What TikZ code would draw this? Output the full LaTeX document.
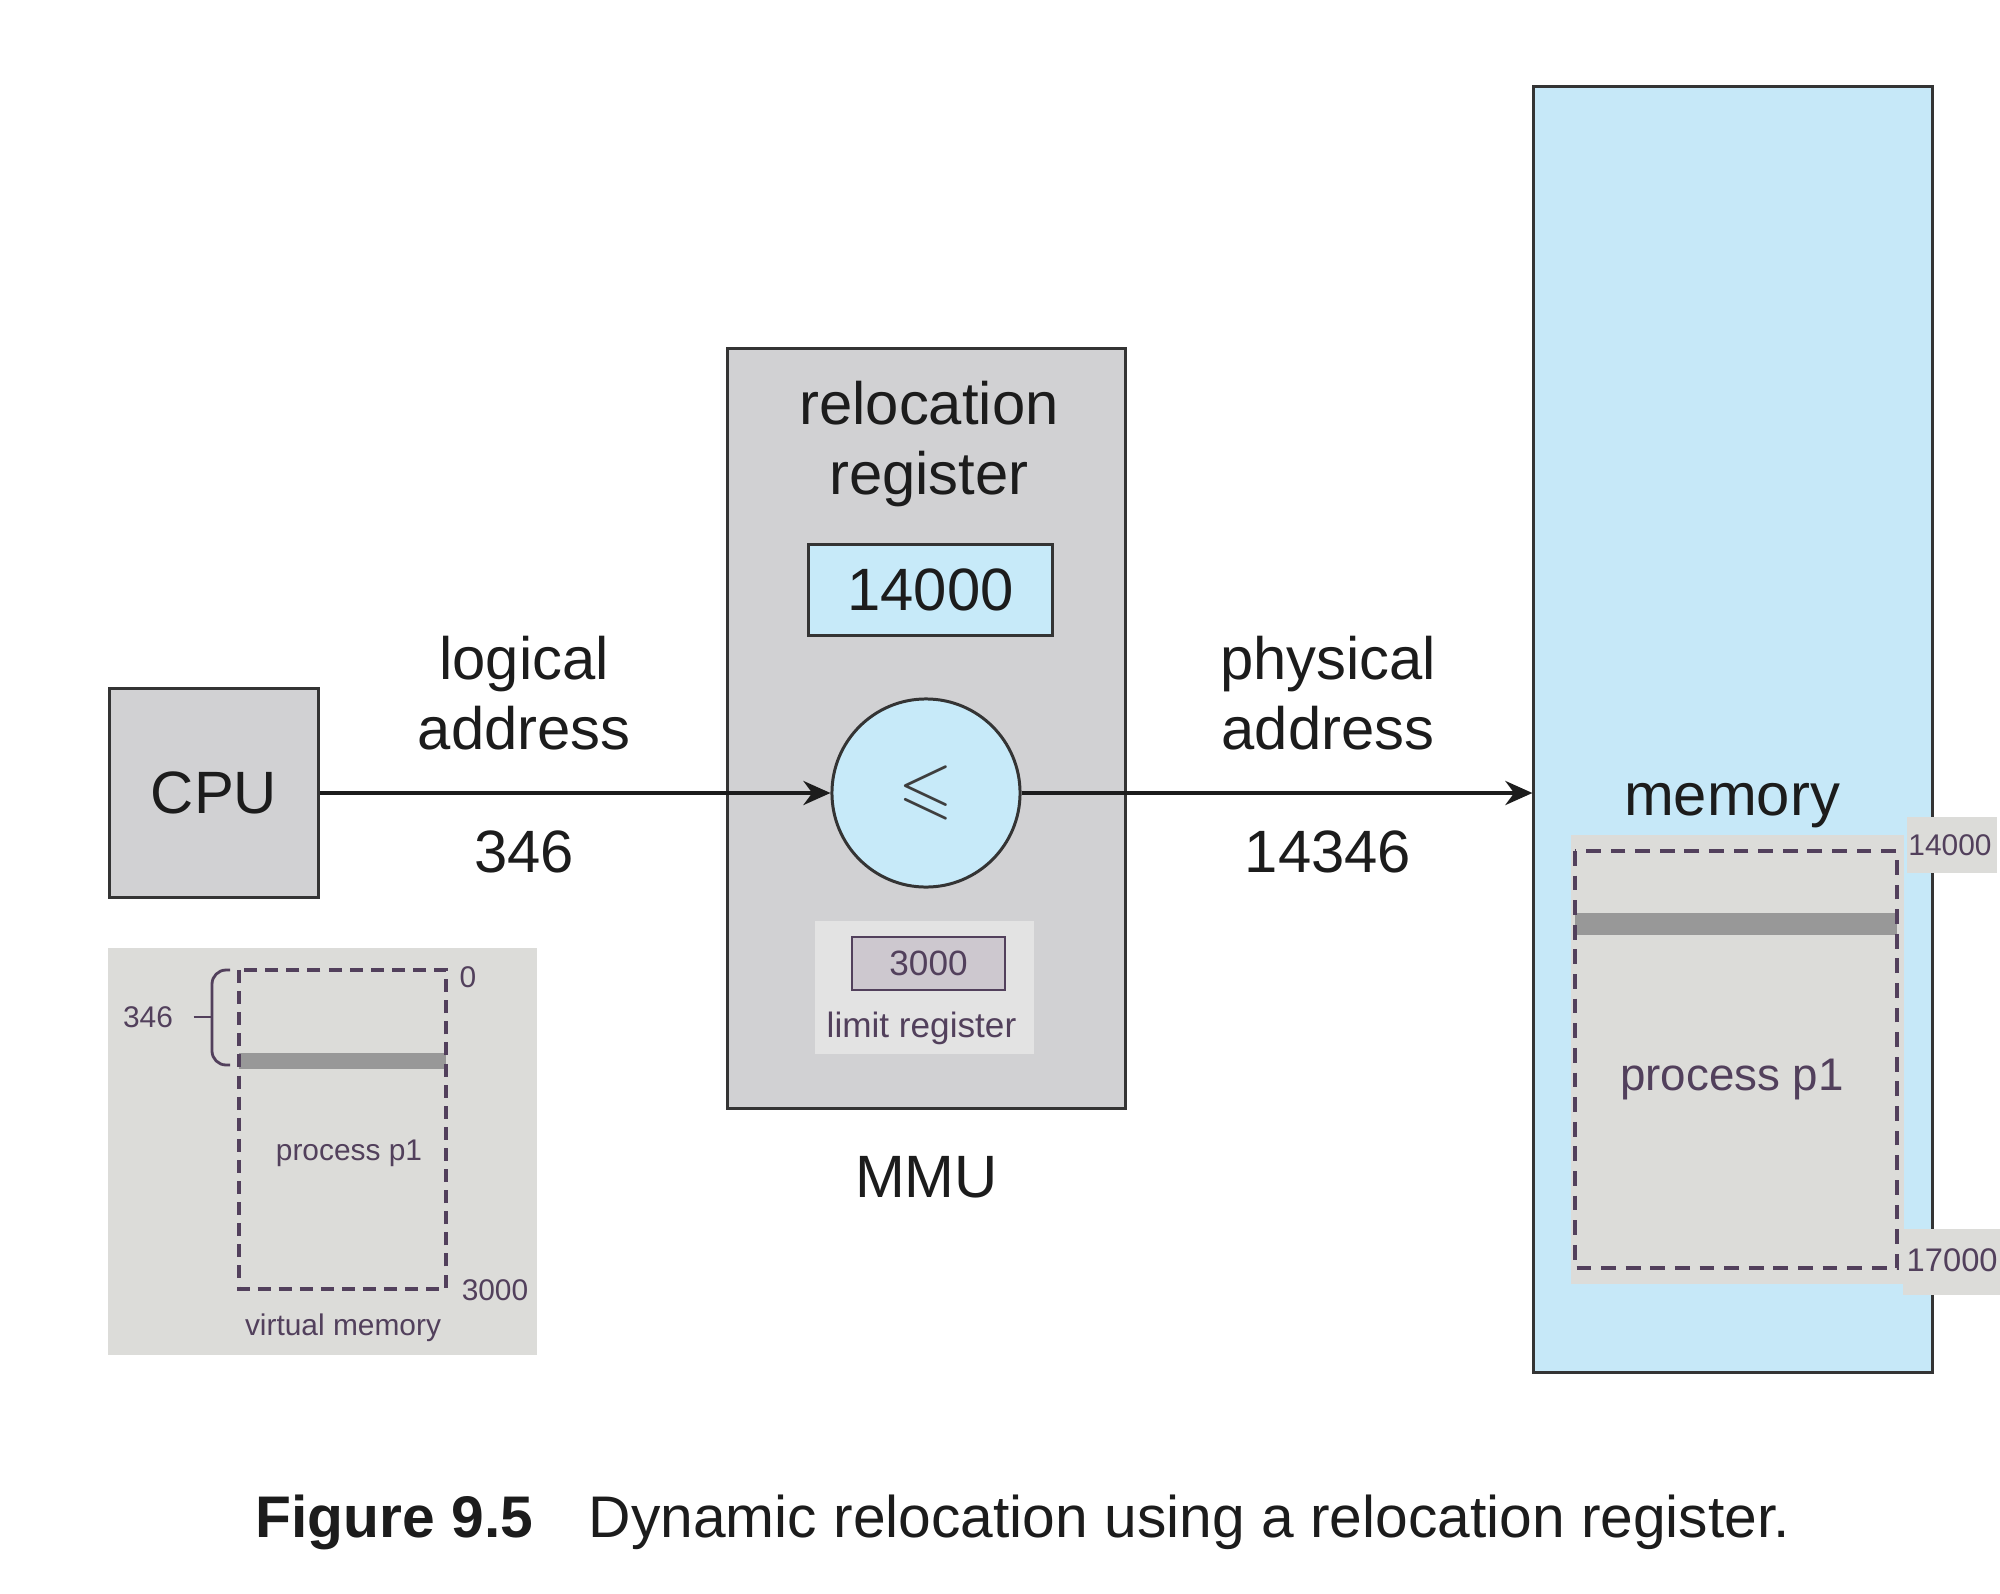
\documentclass[tikz,border=0pt]{standalone}
\usepackage{fontspec}
\setmainfont{Liberation Sans}
\usepackage{amssymb}
\usepackage{xcolor}
\usepackage{tikz}
\usetikzlibrary{arrows.meta, positioning, calc}
\definecolor{ink}{RGB}{28,28,28}
\definecolor{edge}{RGB}{52,52,52}
\definecolor{unitgray}{RGB}{209,209,211}
\definecolor{regblue}{RGB}{199,234,249}
\definecolor{membg}{RGB}{198,232,248}
\definecolor{panelgray}{RGB}{220,220,217}
\definecolor{limitgray}{RGB}{227,227,227}
\definecolor{limitfill}{RGB}{205,200,207}
\definecolor{purpleink}{RGB}{82,64,92}
\definecolor{barcolor}{RGB}{152,152,152}
\tikzset{
    unitbox/.style={rectangle, draw=edge, line width=0.85pt, fill=unitgray, inner sep=0pt},
    regbox/.style={rectangle, draw=edge, line width=0.85pt, fill=regblue, inner sep=0pt, font=\fontsize{17}{20}\selectfont, text=ink},
    txt/.style={inner sep=0pt, align=center, text=ink, font=\fontsize{17}{20}\selectfont},
    smalltxt/.style={inner sep=0pt, text=purpleink, font=\fontsize{8.5}{10}\selectfont},
    arrow/.style={line width=1.15pt, draw=ink, -{Stealth[length=0.27cm, width=0.24cm]}},
    dashedregion/.style={draw=purpleink, line width=1.1pt, dash pattern=on 4.2pt off 2.8pt},
    bar/.style={draw=barcolor, line width=6pt}
}

\begin{document}
\begin{tikzpicture}[x=0.01cm, y=-0.01cm]
    \fill[white] (0,0) rectangle (2000,1594);
    \useasboundingbox (0,0) rectangle (2000,1594);

    % Nodes
    \node (cpu) [unitbox, txt, minimum width=2.09cm, minimum height=2.08cm] at (214,793) {CPU};
    \node (mmu) [unitbox, minimum width=3.97cm, minimum height=7.59cm] at (926.5,728.5) {};
    \node (reloc) [txt] at (929,444) {relocation\\register};
    \node (base) [regbox, minimum width=2.43cm, minimum height=0.90cm] at (930.5,590) {14000};
    \node (adder) [circle, draw=edge, line width=0.85pt, fill=regblue, minimum size=1.88cm, inner sep=0pt, text=ink!85, font=\fontsize{20}{24}\selectfont] at (926,793) {$\leqslant$};
    \node (limitpanel) [rectangle, fill=limitgray, minimum width=2.19cm, minimum height=1.33cm, inner sep=0pt] at (924.5,987.5) {};
    \node (limit) [rectangle, draw=purpleink, line width=0.75pt, fill=limitfill, minimum width=1.53cm, minimum height=0.53cm, inner sep=0pt, text=purpleink, font=\fontsize{10}{12}\selectfont] at (928.5,963.5) {3000};
    \node (limitlbl) [smalltxt, font=\fontsize{10}{12}\selectfont, below=0.2cm of limit, xshift=-0.07cm] {limit register};
    \node (mmulbl) [txt, below=0.46cm of mmu] {MMU};

    % Memory
    \node (memory) [rectangle, draw=edge, line width=0.85pt, fill=membg, minimum width=3.98cm, minimum height=12.85cm, inner sep=0pt] at (1733,729.5) {};
    \node (memlbl) [txt, anchor=base] at (1732,815) {memory};
    \node (procpanel) [rectangle, fill=panelgray, minimum width=3.33cm, minimum height=4.49cm, inner sep=0pt] at (1737.5,1059.5) {};
    \draw [bar] (1575,924) -- (1897,924);
    \draw [dashedregion] (1575,851) rectangle (1897,1268);
    \node (proc) [smalltxt, font=\fontsize{13}{15}\selectfont] at (1732,1080) {process p1};
    \node (toptag) [rectangle, fill=panelgray, minimum width=0.90cm, minimum height=0.56cm, inner sep=0pt] at (1952,845) {};
    \node (toplbl) [smalltxt] at (1950,845) {14000};
    \node (endtag) [rectangle, fill=panelgray, minimum width=0.97cm, minimum height=0.66cm, inner sep=0pt] at (1951.5,1262) {};
    \node (endlbl) [smalltxt, font=\fontsize{9.3}{11}\selectfont, anchor=west] at (1906,1260) {17000};

    % Virtual memory inset
    \node (vpanel) [rectangle, fill=panelgray, minimum width=4.29cm, minimum height=4.07cm, inner sep=0pt] at (322.5,1151.5) {};
    \draw [bar, line width=4.8pt] (239,1061) -- (446,1061);
    \draw [dashedregion, line width=0.9pt, dash pattern=on 3.7pt off 2.3pt] (239,970) rectangle (446,1289);
    \draw [purpleink, line width=0.8pt, rounded corners=4pt] (230,970) -- (212,970) -- (212,1065) -- (230,1065);
    \coordinate (tick) at (212,1017);
    \node (offset) [smalltxt] at (148,1017) {346};
    \draw [purpleink, line width=0.8pt] (offset.east) ++(0.2cm,0) -- (tick);
    \node (zero) [smalltxt] at (468,977) {0};
    \node (size) [smalltxt] at (495,1290) {3000};
    \node (vproc) [smalltxt] at (349,1153) {process p1};
    \node (vlbl) [smalltxt] at (343,1328) {virtual memory};

    % Arrows
    \draw [arrow] (cpu) -- node[pos=0.4, txt, above=0.41cm] {logical\\address} node[pos=0.4, txt, below=0.36cm] {346} (adder);
    \draw [arrow] (adder.east) -- node[pos=0.6, txt, above=0.41cm] {physical\\address} node[pos=0.6, txt, below=0.36cm] {14346} (adder.east -| memory.west);

    % Caption
    \node (caption) [anchor=base west, inner sep=0pt, text=ink, font=\fontsize{16.7}{20}\selectfont] at (255,1537) {\textbf{Figure 9.5}\hspace{0.95em}Dynamic relocation using a relocation register.};
\end{tikzpicture}
\end{document}
